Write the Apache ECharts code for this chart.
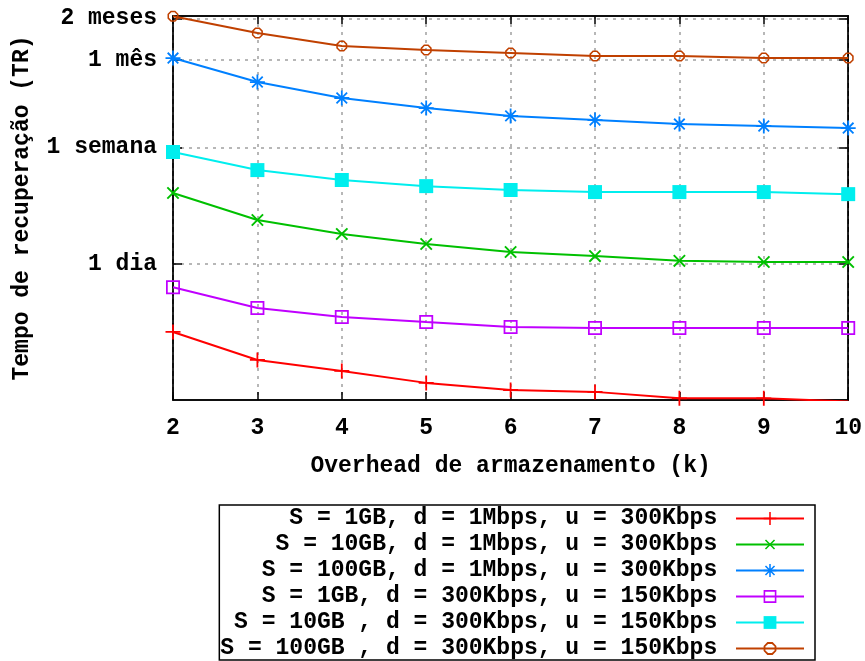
<!DOCTYPE html>
<html><head><meta charset="utf-8">
<script src="https://cdn.jsdelivr.net/npm/echarts@6/dist/echarts.min.js"></script>
<style>html,body{margin:0;padding:0;background:#fff}#c{width:865px;height:661px}</style>
</head><body><div id="c"></div>
<script>
// ---- data (hours) ----
const kValues = [2, 3, 4, 5, 6, 7, 8, 9, 10];
const seriesNames = [
  'S = 1GB, d = 1Mbps, u = 300Kbps',
  'S = 10GB, d = 1Mbps, u = 300Kbps',
  'S = 100GB, d = 1Mbps, u = 300Kbps',
  'S = 1GB, d = 300Kbps, u = 150Kbps',
  'S = 10GB , d = 300Kbps, u = 150Kbps',
  'S = 100GB , d = 300Kbps, u = 150Kbps'
];
const s1GB_1M     = [7.72, 4.84, 4.03, 3.30, 2.93, 2.84, 2.55, 2.55, 2.42];
const s10GB_1M    = [78.5, 50, 39.6, 33.5, 29.3, 27.4, 25.3, 24.8, 24.8];
const s100GB_1M   = [746, 500, 383, 324, 284, 265, 248, 240, 232];
const s1GB_300K   = [16.3, 11.5, 9.9, 9.1, 8.4, 8.25, 8.25, 8.25, 8.25];
const s10GB_300K  = [155.6, 115, 97.5, 88, 82.5, 79.7, 79.7, 79.7, 77];
const s100GB_300K = [1500, 1133, 912, 853, 811, 772, 772, 746, 746];
const yTickValues = [24, 168, 720, 1440];
const yTickLabels = ['1 dia', '1 semana', '1 mês', '2 meses'];
const xTickLabels = ['2', '3', '4', '5', '6', '7', '8', '9', '10'];
const allSeries = [s1GB_1M, s10GB_1M, s100GB_1M, s1GB_300K, s10GB_300K, s100GB_300K];

// ---- styles ----
const FONT = 'Liberation Mono';
const colors = ['#ff0000', '#00c000', '#0080ff', '#c000ff', '#00eeee', '#c04000'];
const plusPath = 'path://M-1.2,-10 L1.2,-10 L1.2,-1.2 L10,-1.2 L10,1.2 L1.2,1.2 L1.2,10 L-1.2,10 L-1.2,1.2 L-10,1.2 L-10,-1.2 L-1.2,-1.2 Z';
const starPath = 'path://M-1.2,-10 L1.2,-10 L1.2,-1.2 L10,-1.2 L10,1.2 L1.2,1.2 L1.2,10 L-1.2,10 L-1.2,1.2 L-10,1.2 L-10,-1.2 L-1.2,-1.2 Z ' +
  'M-6.22,-7.92 L7.92,6.22 L6.22,7.92 L-7.92,-6.22 Z M-7.92,6.22 L6.22,-7.92 L7.92,-6.22 L-6.22,7.92 Z';
const hollowSquare = 'path://M-10,-10 L10,-10 L10,10 L-10,10 Z M-7.5,-7.5 L-7.5,7.5 L7.5,7.5 L7.5,-7.5 Z';
const hollowOct = 'path://M-4.1,-10 L4.1,-10 L10,-4.1 L10,4.1 L4.1,10 L-4.1,10 L-10,4.1 L-10,-4.1 Z ' +
  'M-2.95,-7.2 L-7.2,-2.95 L-7.2,2.95 L-2.95,7.2 L2.95,7.2 L7.2,2.95 L7.2,-2.95 L2.95,-7.2 Z';
const symbols = [plusPath, plusPath, starPath, hollowSquare, 'rect', hollowOct];
const symbolRot = [0, 45, 0, 0, 0, 0];
const symbolSizes = [15, 16, 15, 14, 14, 11];

const textStyle = { fontFamily: FONT, fontSize: 23, fontWeight: 'bold', color: '#000' };
const gridLine = { show: true, lineStyle: { color: '#a0a0a0', width: 1.5, type: [3, 5] } };
const Y_MIN = 2.48, Y_MAX = 1505;

function yLabel(v) {
  let best = '', bd = 1e9;
  yTickValues.forEach((t, i) => { const d = Math.abs(Math.log(v) - Math.log(t)); if (d < bd) { bd = d; best = yTickLabels[i]; } });
  return best;
}

const chart = echarts.init(document.getElementById('c'));
chart.setOption({
  animation: false,
  backgroundColor: '#fff',
  grid: { left: 173, right: 14, top: 16, bottom: 261, show: true, borderColor: '#000', borderWidth: 1.5, backgroundColor: 'transparent' },
  xAxis: [{
    type: 'value', min: 2, max: 10, interval: 1, position: 'bottom',
    name: 'Overhead de armazenamento (k)', nameLocation: 'middle', nameGap: 55,
    nameTextStyle: textStyle,
    axisLine: { show: true, lineStyle: { color: '#000', width: 1.5 } },
    axisTick: { show: true, inside: true, length: 8, lineStyle: { color: '#000', width: 1.5 } },
    axisLabel: Object.assign({ margin: 17, formatter: v => xTickLabels[kValues.indexOf(v)] || '' }, textStyle),
    splitLine: gridLine
  }, {
    type: 'value', min: 2, max: 10, interval: 1, position: 'top',
    axisLine: { show: true, lineStyle: { color: '#000', width: 1.5 } },
    axisTick: { show: true, inside: true, length: 8, lineStyle: { color: '#000', width: 1.5 } },
    axisLabel: { show: false }, splitLine: { show: false }
  }],
  yAxis: [{
    type: 'log', min: Y_MIN, max: Y_MAX, position: 'left',
    name: 'Tempo de recuperação (TR)', nameLocation: 'middle', nameGap: 139, nameRotate: 90,
    nameTextStyle: textStyle,
    axisLine: { show: true, lineStyle: { color: '#000', width: 1.5 } },
    axisTick: { show: true, inside: true, length: 9, customValues: yTickValues, lineStyle: { color: '#000', width: 1.5 } },
    axisLabel: Object.assign({ margin: 16, customValues: yTickValues, formatter: yLabel }, textStyle),
    splitLine: gridLine, minorTick: { show: false }
  }, {
    type: 'log', min: Y_MIN, max: Y_MAX, position: 'right',
    axisLine: { show: true, lineStyle: { color: '#000', width: 1.5 } },
    axisTick: { show: true, inside: true, length: 9, customValues: yTickValues, lineStyle: { color: '#000', width: 1.5 } },
    axisLabel: { show: false }, splitLine: { show: false }
  }],
  legend: {
    orient: 'vertical', align: 'right', right: 50, top: 505, bottom: -30,
    itemWidth: 68, itemHeight: 16, itemGap: 3,
    padding: [2, 10, 0, 1], borderColor: '#000', borderWidth: 1.5,
    textStyle: textStyle,
    formatter: n => n + ' ',
    data: seriesNames
  },
  series: allSeries.map((vals, i) => ({
    name: seriesNames[i], type: 'line', xAxisIndex: 0, yAxisIndex: 0,
    data: kValues.map((k, j) => [k, vals[j]]),
    symbol: symbols[i], symbolSize: symbolSizes[i], symbolRotate: symbolRot[i],
    showAllSymbol: true,
    lineStyle: { color: colors[i], width: 2 },
    itemStyle: { color: colors[i] },
    clip: true, z: 3 + i
  }))
});
</script></body></html>
